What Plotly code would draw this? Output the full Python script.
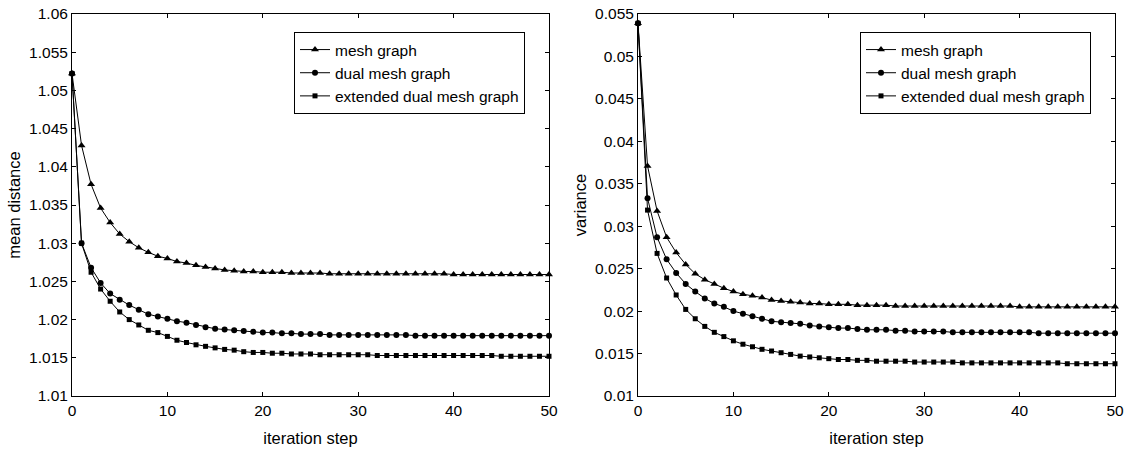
import plotly.graph_objects as go

steps = list(range(51))

left_mesh = [1.0522, 1.0428, 1.0377, 1.0346, 1.0327, 1.0312, 1.0302, 1.0294, 1.0288, 1.0283,
             1.0280, 1.0276, 1.0274, 1.0271, 1.0269, 1.0267, 1.0265, 1.0264, 1.0263, 1.0263,
             1.0262, 1.0262, 1.0262, 1.0261, 1.0261, 1.0261, 1.0261, 1.0260, 1.0260, 1.0260,
             1.0260, 1.0260, 1.0260, 1.0260, 1.0260, 1.0260, 1.0260, 1.0260, 1.0260, 1.0260,
             1.0259, 1.0259, 1.0259, 1.0259, 1.0259, 1.0259, 1.0259, 1.0259, 1.0259, 1.0259, 1.0259]
left_dual = [1.0522, 1.0300, 1.0268, 1.0248, 1.0234, 1.0226, 1.0219, 1.0213, 1.0207, 1.0204,
             1.0201, 1.0198, 1.0196, 1.0193, 1.0190, 1.0188, 1.0187, 1.0186, 1.0185, 1.0184,
             1.0183, 1.0183, 1.0182, 1.0182, 1.0181, 1.0181, 1.0181, 1.0180, 1.0180, 1.0180,
             1.0180, 1.0180, 1.0180, 1.0180, 1.0180, 1.0180, 1.0179, 1.0179, 1.0179, 1.0179,
             1.0179, 1.0179, 1.0179, 1.0179, 1.0179, 1.0179, 1.0179, 1.0179, 1.0179, 1.0179, 1.0179]
left_ext = [1.0522, 1.0300, 1.0262, 1.0240, 1.0224, 1.0210, 1.0200, 1.0193, 1.0186, 1.0183,
            1.0178, 1.0173, 1.0170, 1.0167, 1.0165, 1.0163, 1.0161, 1.0160, 1.0158, 1.0157,
            1.0157, 1.0156, 1.0156, 1.0155, 1.0155, 1.0155, 1.0154, 1.0154, 1.0154, 1.0154,
            1.0154, 1.0154, 1.0153, 1.0153, 1.0153, 1.0153, 1.0153, 1.0153, 1.0153, 1.0153,
            1.0153, 1.0153, 1.0153, 1.0153, 1.0153, 1.0152, 1.0152, 1.0152, 1.0152, 1.0152, 1.0152]

right_mesh = [0.0539, 0.0371, 0.0318, 0.0287, 0.0269, 0.0255, 0.0244, 0.0237, 0.0232, 0.0227,
              0.0223, 0.0220, 0.0218, 0.0216, 0.0213, 0.0212, 0.0211, 0.0210, 0.0209, 0.0209,
              0.0208, 0.0208, 0.0208, 0.0207, 0.0207, 0.0207, 0.0207, 0.0206, 0.0206, 0.0206,
              0.0206, 0.0206, 0.0206, 0.0206, 0.0206, 0.0206, 0.0206, 0.0206, 0.0206, 0.0206,
              0.0205, 0.0205, 0.0205, 0.0205, 0.0205, 0.0205, 0.0205, 0.0205, 0.0205, 0.0205, 0.0205]
right_dual = [0.0539, 0.0333, 0.0287, 0.0261, 0.0245, 0.0232, 0.0223, 0.0215, 0.0209, 0.0205,
              0.0200, 0.0197, 0.0194, 0.0191, 0.0188, 0.0187, 0.0186, 0.0185, 0.0183, 0.0182,
              0.0181, 0.0180, 0.0180, 0.0179, 0.0178, 0.0178, 0.0178, 0.0177, 0.0177, 0.0176,
              0.0176, 0.0176, 0.0176, 0.0175, 0.0175, 0.0175, 0.0175, 0.0175, 0.0175, 0.0175,
              0.0175, 0.0175, 0.0174, 0.0174, 0.0174, 0.0174, 0.0174, 0.0174, 0.0174, 0.0174, 0.0174]
right_ext = [0.0539, 0.0319, 0.0268, 0.0239, 0.0219, 0.0202, 0.0191, 0.0182, 0.0175, 0.0170,
             0.0165, 0.0161, 0.0158, 0.0155, 0.0153, 0.0151, 0.0149, 0.0147, 0.0146, 0.0145,
             0.0144, 0.0143, 0.0143, 0.0142, 0.0142, 0.0141, 0.0141, 0.0141, 0.0141, 0.0140,
             0.0140, 0.0140, 0.0140, 0.0140, 0.0139, 0.0139, 0.0139, 0.0139, 0.0139, 0.0139,
             0.0139, 0.0139, 0.0139, 0.0139, 0.0139, 0.0138, 0.0138, 0.0138, 0.0138, 0.0138, 0.0138]

series_names = ["mesh graph", "dual mesh graph", "extended dual mesh graph"]
symbols = ["triangle-up", "circle", "square"]
sizes = [7, 6, 5]

x_ticks = [0, 10, 20, 30, 40, 50]
x_ticktext = ["0", "10", "20", "30", "40", "50"]
left_yticks = [1.01, 1.015, 1.02, 1.025, 1.03, 1.035, 1.04, 1.045, 1.05, 1.055, 1.06]
left_yticktext = ["1.01", "1.015", "1.02", "1.025", "1.03", "1.035", "1.04", "1.045", "1.05", "1.055", "1.06"]
right_yticks = [0.01, 0.015, 0.02, 0.025, 0.03, 0.035, 0.04, 0.045, 0.05, 0.055]
right_yticktext = ["0.01", "0.015", "0.02", "0.025", "0.03", "0.035", "0.04", "0.045", "0.05", "0.055"]

FONT = "Liberation Sans, Arial, sans-serif"

fig = go.Figure()

for i, (name, ys) in enumerate(zip(series_names, [left_mesh, left_dual, left_ext])):
    fig.add_trace(go.Scatter(
        x=steps, y=ys, name=name, mode="lines+markers",
        line=dict(color="black", width=1),
        marker=dict(symbol=symbols[i], size=sizes[i], color="black"),
        xaxis="x", yaxis="y", legend="legend", legendgroup="L%d" % i,
        cliponaxis=False,
    ))
for i, (name, ys) in enumerate(zip(series_names, [right_mesh, right_dual, right_ext])):
    fig.add_trace(go.Scatter(
        x=steps, y=ys, name=name, mode="lines+markers",
        line=dict(color="black", width=1),
        marker=dict(symbol=symbols[i], size=sizes[i], color="black"),
        xaxis="x2", yaxis="y2", legend="legend2", legendgroup="R%d" % i,
        cliponaxis=False,
    ))

L, R, T, B = 72, 12, 14, 54
W, H = 1127, 450
pw = W - L - R
ph = H - T - B
left_dom = [0, (549 - L) / pw]
right_dom = [(638 - L) / pw, 1]

axis_common = dict(
    showline=True, linecolor="black", linewidth=1, mirror="ticks",
    ticks="inside", ticklen=4, tickcolor="black", showgrid=False, zeroline=False,
    tickfont=dict(family=FONT, size=15.5, color="black"), automargin=False,
)
title_font = dict(family=FONT, size=16.5, color="black")
legend_common = dict(xanchor="left", yanchor="top", bordercolor="black", borderwidth=1,
                     bgcolor="white", font=dict(family=FONT, size=15.5, color="black"),
                     tracegroupgap=0, traceorder="grouped")

fig.update_layout(
    width=W, height=H,
    margin=dict(l=L, r=R, t=T, b=B),
    paper_bgcolor="white", plot_bgcolor="white",
    font=dict(family=FONT, size=15, color="black"),
    xaxis=dict(domain=left_dom, range=[0, 50], tickvals=x_ticks, ticktext=x_ticktext,
               title=dict(text="iteration step", font=title_font, standoff=14),
               anchor="y", **axis_common),
    yaxis=dict(range=[1.01, 1.06], tickvals=left_yticks, ticktext=left_yticktext,
               title=dict(text="mean distance", font=title_font, standoff=4),
               anchor="x", **axis_common),
    xaxis2=dict(domain=right_dom, range=[0, 50], tickvals=x_ticks, ticktext=x_ticktext,
                title=dict(text="iteration step", font=title_font, standoff=14),
                anchor="y2", **axis_common),
    yaxis2=dict(range=[0.01, 0.055], tickvals=right_yticks, ticktext=right_yticktext,
                title=dict(text="variance", font=title_font, standoff=4),
                anchor="x2", **axis_common),
    legend=dict(x=(294 - L) / pw, y=(H - B - 32) / ph, **legend_common),
    legend2=dict(x=(860 - L) / pw, y=(H - B - 32) / ph, **legend_common),
)

fig.write_html("out.html")
